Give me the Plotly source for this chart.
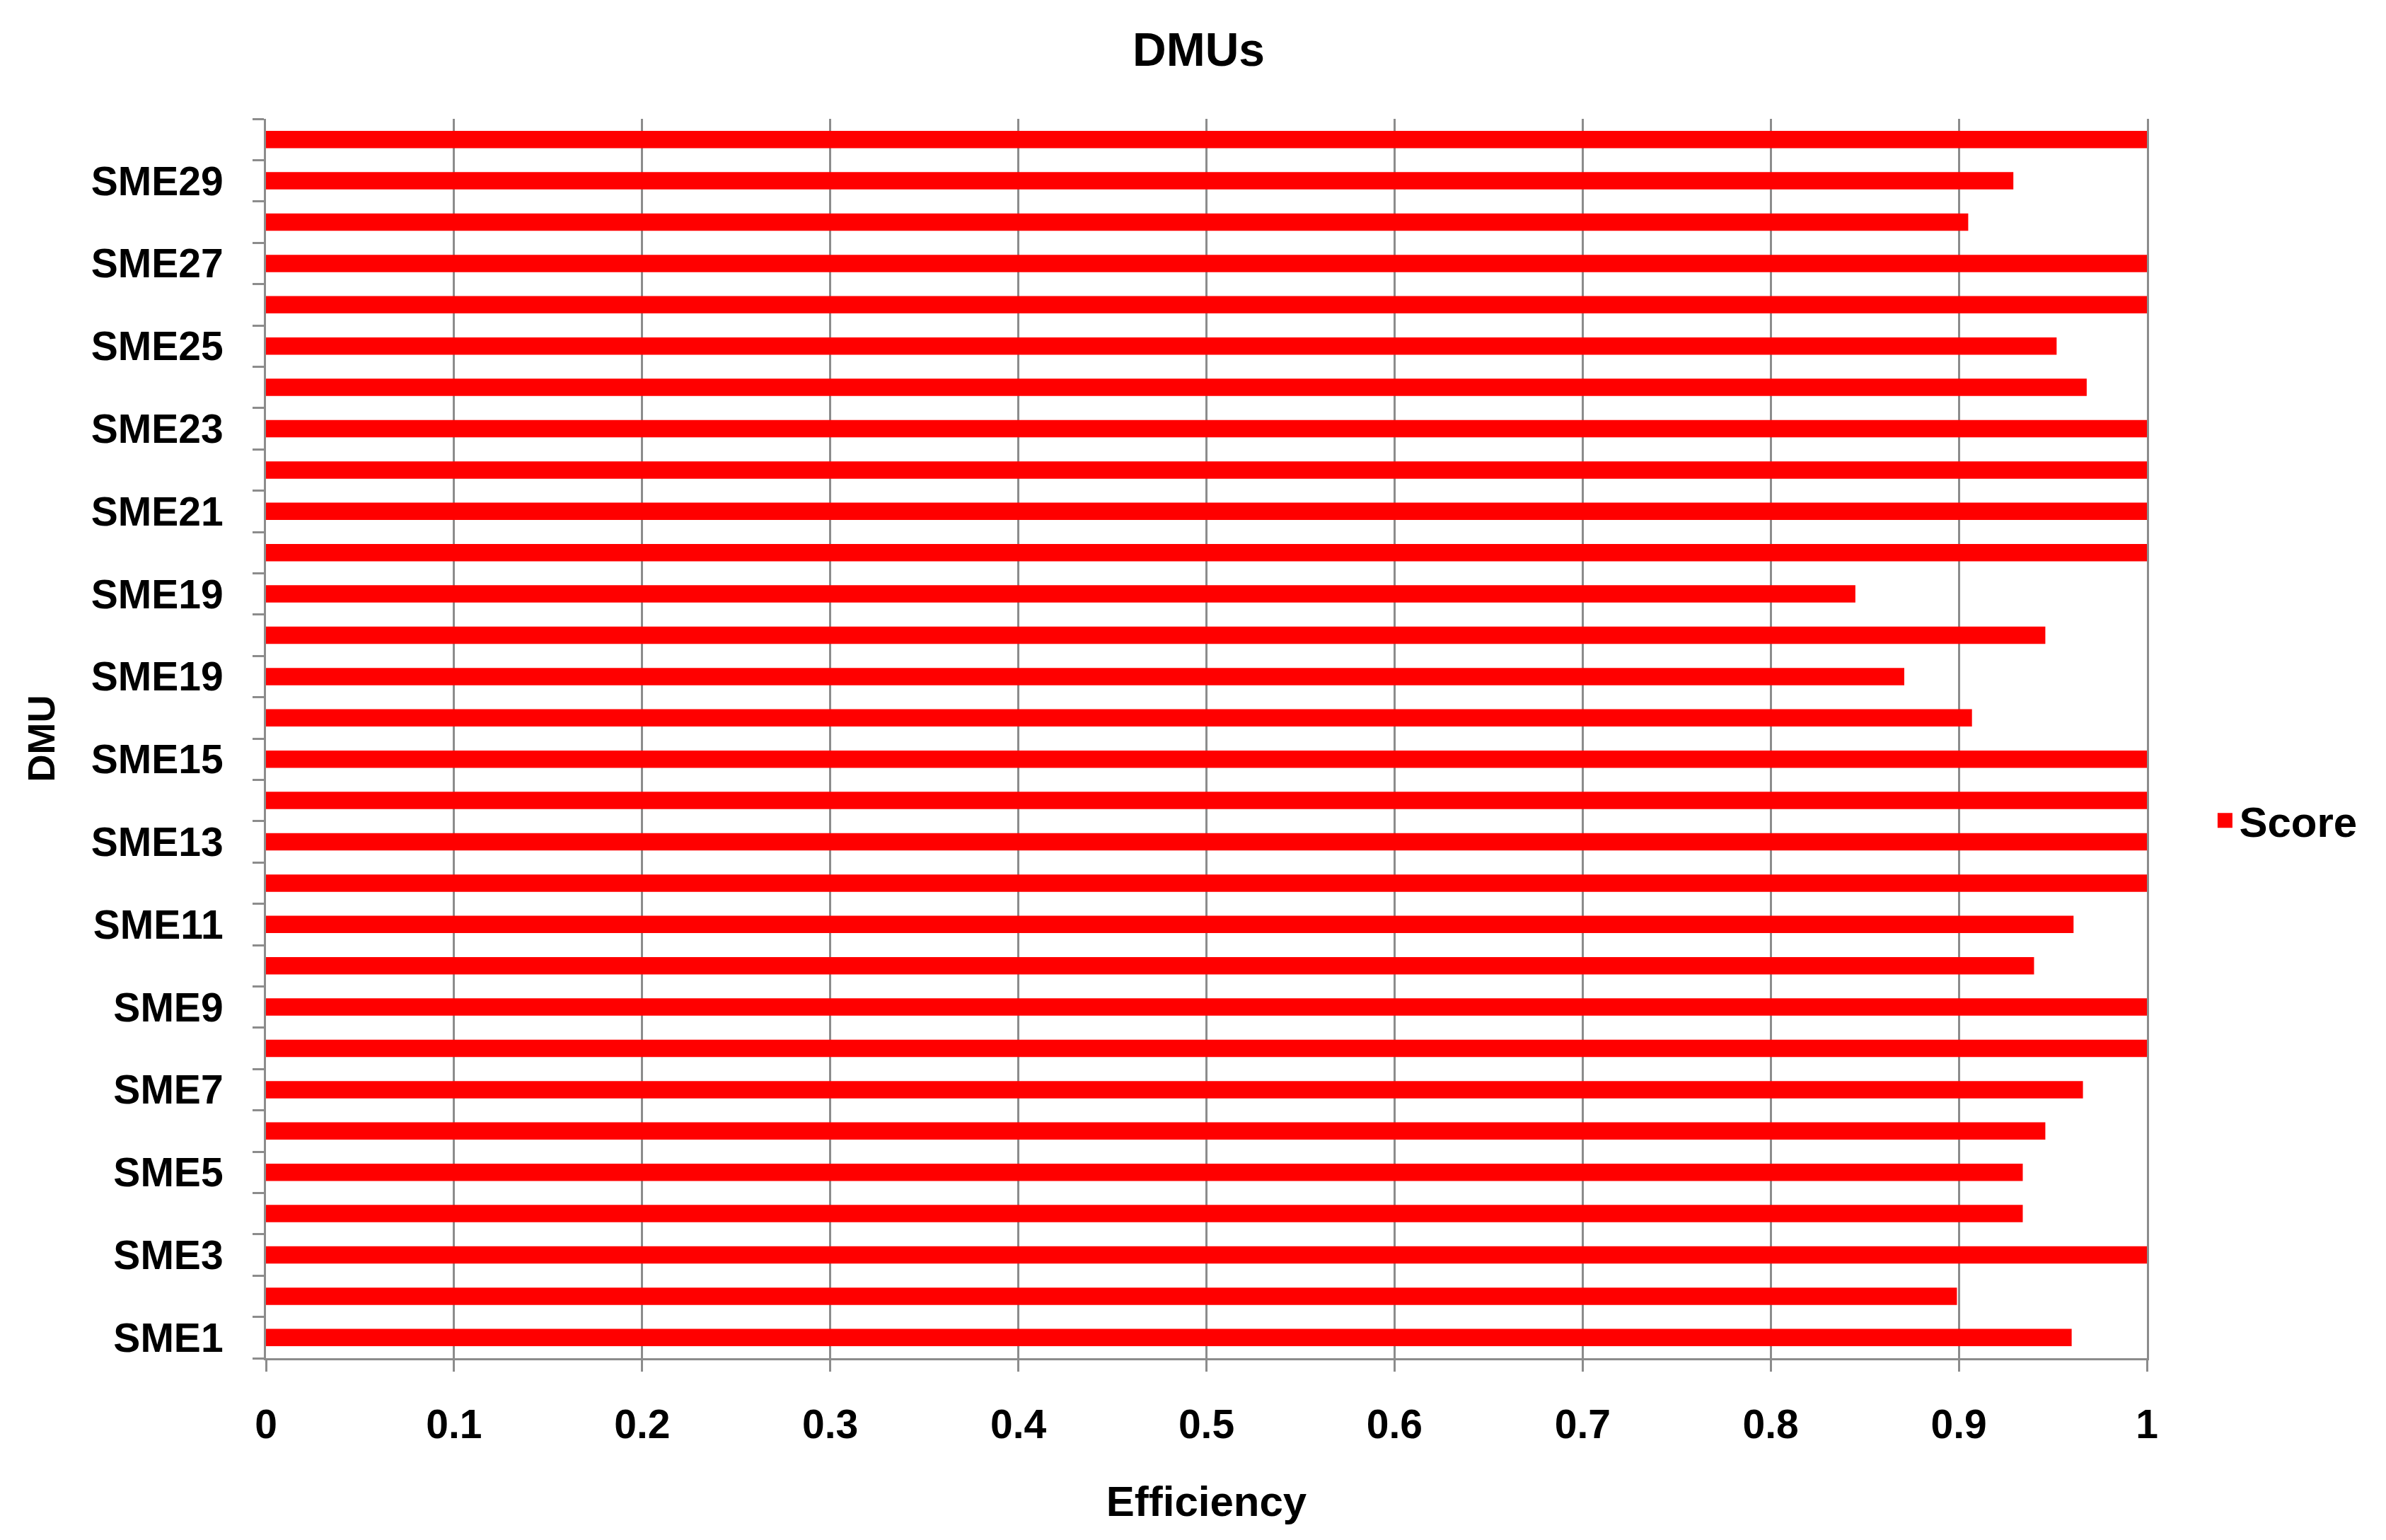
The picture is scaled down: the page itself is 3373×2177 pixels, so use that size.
import plotly.graph_objects as go

# Data (SME1 .. SME30)
dmu_names = [f"SME{i}" for i in range(1, 31)]
efficiency = [0.960, 0.899, 1.0, 0.934, 0.934, 0.946, 0.966, 1.0, 1.0, 0.940,
              0.961, 1.0, 1.0, 1.0, 1.0, 0.907, 0.871, 0.946, 0.845, 1.0,
              1.0, 1.0, 1.0, 0.968, 0.952, 1.0, 1.0, 0.905, 0.929, 1.0]
# tick labels exactly as printed on the chart (every other category)
tick_labels = ["SME1", "SME3", "SME5", "SME7", "SME9", "SME11", "SME13", "SME15",
               "SME19", "SME19", "SME21", "SME23", "SME25", "SME27", "SME29"]
x_ticks = [0, 0.1, 0.2, 0.3, 0.4, 0.5, 0.6, 0.7, 0.8, 0.9, 1]
x_tick_text = ["0", "0.1", "0.2", "0.3", "0.4", "0.5", "0.6", "0.7", "0.8", "0.9", "1"]

positions = list(range(1, len(dmu_names) + 1))
label_positions = positions[0::2]
boundaries = [p - 0.5 for p in positions] + [positions[-1] + 0.5]

GRAY = "#8c8c8c"
FONT = "Liberation Sans, Arial, sans-serif"

fig = go.Figure()
fig.add_trace(go.Bar(
    x=efficiency, y=positions, orientation="h", width=0.42,
    marker=dict(color="#ff0000", line=dict(width=0)),
    name="Score", showlegend=False, customdata=dmu_names,
))
# legend entry
fig.add_trace(go.Scatter(
    x=[None], y=[None], mode="markers", name="Score",
    marker=dict(symbol="square", size=16, color="#ff0000",
                line=dict(color="#ff0000", width=5)),
))

fig.update_layout(
    width=3373, height=2177,
    margin=dict(l=368, r=346, t=160, b=265),
    plot_bgcolor="white", paper_bgcolor="white",
    font=dict(family=FONT, size=57, color="black", weight="bold"),
    title=dict(text="DMUs", x=0.5, xanchor="center", y=1 - 62 / 2177,
               yanchor="middle", yref="container",
               font=dict(family=FONT, size=66, color="black", weight="bold")),
    legend=dict(x=1.034, y=0.434, xanchor="left", yanchor="middle",
                font=dict(family=FONT, size=60, color="black", weight="bold"),
                itemsizing="trace", bgcolor="rgba(0,0,0,0)"),
)

fig.update_xaxes(
    range=[0, 1], tickmode="array", tickvals=x_ticks, ticktext=x_tick_text,
    showgrid=True, gridcolor=GRAY, gridwidth=3,
    showline=True, linecolor=GRAY, linewidth=3,
    ticks="outside", ticklen=16, tickwidth=3, tickcolor=GRAY,
    zeroline=False, ticklabelstandoff=26,
    tickfont=dict(family=FONT, size=57, color="black", weight="bold"),
    title=dict(text="Efficiency", standoff=57,
               font=dict(family=FONT, size=60, color="black", weight="bold")),
)

fig.update_yaxes(
    range=[0.5, len(dmu_names) + 0.5], tickmode="array",
    tickvals=label_positions, ticktext=tick_labels,
    ticks="", showgrid=False, zeroline=False,
    showline=True, linecolor=GRAY, linewidth=3, mirror=True,
    ticklabelstandoff=46,
    tickfont=dict(family=FONT, size=57, color="black", weight="bold"),
    minor=dict(tickmode="array", tickvals=boundaries, ticks="outside",
               ticklen=16, tickwidth=3, tickcolor=GRAY, showgrid=False),
    title=dict(text="DMU", standoff=34,
               font=dict(family=FONT, size=54, color="black", weight="bold")),
)

fig.write_html("out.html")
